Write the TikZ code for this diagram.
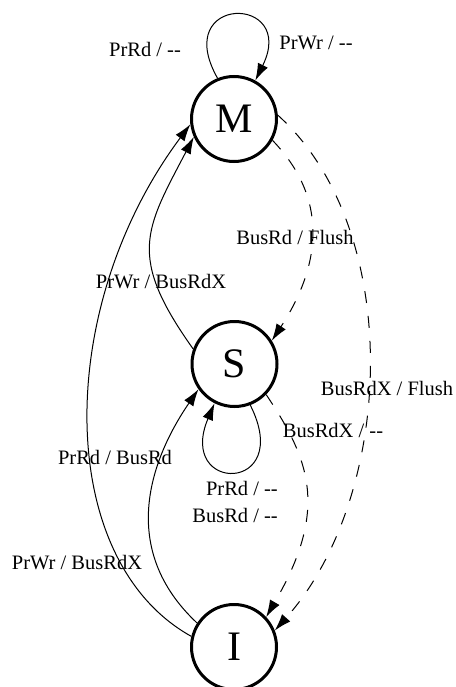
\documentclass[tikz,border=0pt]{standalone}
\usepackage{fontspec}
\setmainfont{Liberation Serif}
\usepackage{tikz}
\usetikzlibrary{arrows.meta}

\begin{document}
\begin{tikzpicture}[x=1pt,y=-1pt]
        \tikzset{state/.style = {shape=circle,draw,line width=3pt,inner sep=0pt,minimum size=85pt,font=\fontsize{42}{42}\selectfont}};
        \tikzset{edge/.style = {-{Latex[length=17pt,width=11pt]},line width=1pt}};
        \tikzset{dedge/.style = {edge,dash pattern=on 12pt off 13pt}};
        \tikzset{lbl/.style = {inner sep=0pt,font=\fontsize{20.5}{27}\selectfont}};
        \useasboundingbox (0,0) rectangle (455,687);
        \node[state] (M) at (234,119) {M};
        \node[state] (S) at (234.5,364) {S};
        \node[state] (I) at (234,647) {I};
        \draw[edge] (M.112) .. controls (170,-6) and (298,-6) .. (M.61);
        \draw[edge] (S.160) .. controls (127,256) and (145,230) .. (M.204);
        \draw[edge] (I.166) .. controls (54,560) and (54,307) .. (M.187);
        \draw[edge] (I.147) .. controls (118,549) and (150,460) .. (S.215);
        \draw[edge] (S.291) .. controls (295,494) and (176,494) .. (S.243);
        \draw[dedge] (M.-29) .. controls (332,202) and (318,270) .. (S.32);
        \draw[dedge] (M.5) .. controls (405,230) and (395,496) .. (I.22);
        \draw[dedge] (S.-44) .. controls (310,460) and (329,509) .. (I.43);
        \node[lbl] (mrd) at (145,49) {PrRd / -{}-};
        \node[lbl] (mwr) at (316,43) {PrWr / -{}-};
        \node[lbl] (swr) at (161,282) {PrWr / BusRdX};
        \node[lbl] (iwr) at (77,563) {PrWr / BusRdX};
        \node[lbl] (ird) at (115,457) {PrRd / BusRd};
        \node[lbl,align=right,anchor=north east] (srd) at (278,481) {PrRd / -{}-\\BusRd / -{}-};
        \node[lbl] (mbrd) at (295,237) {BusRd / Flush};
        \node[lbl] (mbrdx) at (387,388) {BusRdX / Flush};
        \node[lbl] (sbrdx) at (333,430) {BusRdX / -{}-};
\end{tikzpicture}
\end{document}
